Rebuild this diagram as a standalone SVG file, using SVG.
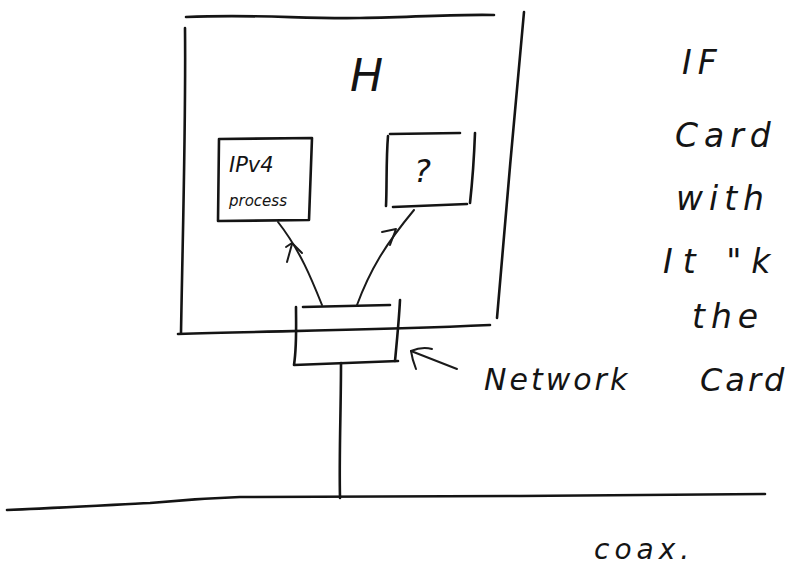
<svg xmlns="http://www.w3.org/2000/svg" width="799" height="571" viewBox="0 0 799 571">
  <defs>
    <style>
      .ink { fill: none; stroke: #141414; stroke-width: 2.6; stroke-linecap: round; stroke-linejoin: round; }
      .thin { fill: none; stroke: #1a1a1a; stroke-width: 2; stroke-linecap: round; stroke-linejoin: round; }
      .hand { font-family: "DejaVu Sans", "Liberation Sans", sans-serif; font-style: italic; fill: #141414; }
      .note { font-size: 33px; font-weight: 300; letter-spacing: 6px; }
    </style>
  </defs>
  <rect width="799" height="571" fill="#ffffff"/>

  <!-- Host H: outer frame -->
  <g id="host">
    <path class="ink" d="M186 17 C260 14 300 19 360 18 C420 17 460 14 494 15"/>
    <path class="ink" d="M185 28 C186 120 183 220 181 333"/>
    <path class="ink" d="M524 12 C515 110 505 220 497 318"/>
    <path class="ink" d="M178 334 C280 331 380 330 490 325"/>
    <text class="hand" x="350" y="91" font-size="44" font-weight="300">H</text>
  </g>

  <!-- IPv4 process box -->
  <g id="ipv4">
    <path class="ink" d="M219 139 L312 138 L309 220 L218 221 Z"/>
    <text class="hand" x="229" y="172" font-size="21" font-weight="300">IPv4</text>
    <text class="hand" x="229" y="206" font-size="15" font-weight="300">process</text>
  </g>

  <!-- Unknown process box -->
  <g id="unknown">
    <path class="ink" d="M388 136 C386 160 387 185 386 206"/>
    <path class="ink" d="M390 134 L460 133"/>
    <path class="ink" d="M475 133 C474 160 472 185 470 203"/>
    <path class="ink" d="M393 207 L467 204"/>
    <text class="hand" x="414" y="182" font-size="32" font-weight="300">?</text>
  </g>

  <!-- Network card box -->
  <g id="network-card">
    <path class="ink" d="M296 307 C296 325 297 345 294 365 L398 361"/>
    <path class="ink" d="M303 307 L390 305"/>
    <path class="ink" d="M400 300 C399 320 397 340 395 361"/>
  </g>

  <!-- Connectors -->
  <g id="connectors">
    <!-- card to IPv4 process -->
    <path class="thin" d="M322 305 C312 280 300 250 278 222"/>
    <path class="thin" d="M286 247 L292 243 L302 253"/>
    <path class="thin" d="M292 244 L287 262"/>
    <!-- card to unknown process -->
    <path class="thin" d="M357 305 C370 270 385 245 414 210"/>
    <path class="thin" d="M382 232 L396 229 L390 245"/>
    <!-- card down to the coax -->
    <path class="ink" d="M341 363 C341 410 339 455 340 498"/>
    <!-- coax cable -->
    <path class="ink" d="M7 510 C60 508 110 505 150 503 C180 500 210 498 240 497 C350 496 450 496 520 496 C620 495 700 495 765 494"/>
    <!-- pointer to the card -->
    <path class="thin" d="M411 351 L457 369"/>
    <path class="thin" d="M411 351 C418 348 425 347 432 349"/>
    <path class="thin" d="M411 351 C412 358 414 364 416 369"/>
  </g>

  <!-- Labels -->
  <text class="hand" x="484" y="390" font-size="30" font-weight="300" letter-spacing="3">Network</text>
  <text class="hand" x="700" y="391" font-size="32" font-weight="300" letter-spacing="3">Card</text>
  <text class="hand" x="594" y="559" font-size="28" font-weight="300" letter-spacing="5">coax.</text>

  <text class="hand note" x="682" y="74">IF</text>
  <text class="hand note" x="675" y="147">Card</text>
  <text class="hand note" x="676" y="210">with</text>
  <text class="hand note" x="663" y="273" style="letter-spacing: 10px">It "k</text>
  <text class="hand note" x="692" y="328">the</text>
</svg>
